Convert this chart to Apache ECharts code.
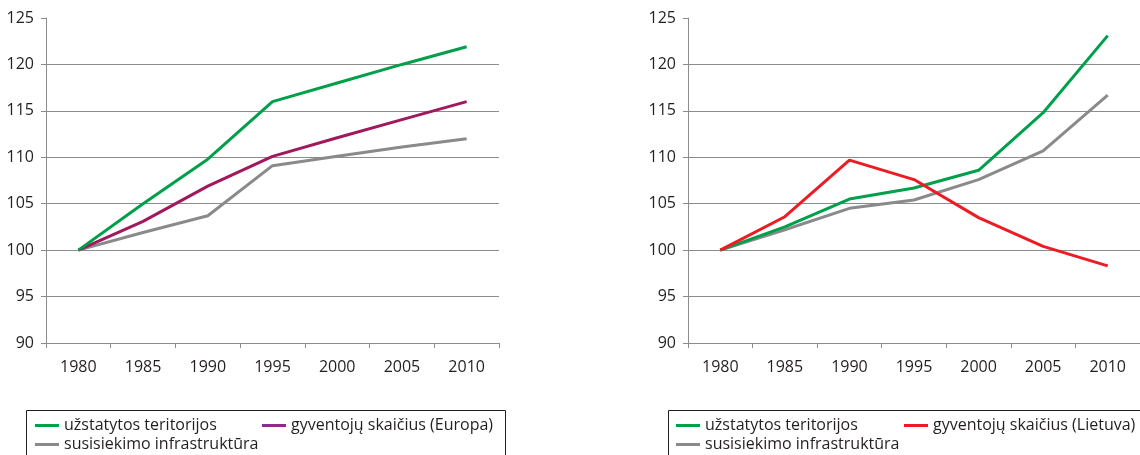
<!DOCTYPE html>
<html>
<head>
<meta charset="utf-8">
<script src="https://cdn.jsdelivr.net/npm/echarts@6/dist/echarts.min.js"></script>
<style>
html,body{margin:0;padding:0;background:#fff;}
#chart{width:1140px;height:455px;}
</style>
</head>
<body>
<div id="chart"></div>
<script>
// ---- data ----
var years = ['1980', '1985', '1990', '1995', '2000', '2005', '2010'];
var yMin = 90, yMax = 125, yStep = 5;

var nameBuilt = 'užstatytos teritorijos';
var nameInfra = 'susisiekimo infrastruktūra';
var namePopEU = 'gyventojų skaičius (Europa)';
var namePopLT = 'gyventojų skaičius (Lietuva)';

// Left chart (Europa)
var euBuilt = [100, 105, 109.8, 116, 118, 120, 121.9];
var euPop   = [100, 103.1, 106.9, 110.1, 112.1, 114.05, 116];
var euInfra = [100, 101.9, 103.7, 109.1, 110.1, 111.1, 112];

// Right chart (Lietuva)
var ltBuilt = [100, 102.5, 105.5, 106.7, 108.6, 114.8, 123.1];
var ltPop   = [100, 103.6, 109.7, 107.6, 103.5, 100.4, 98.3];
var ltInfra = [100, 102.2, 104.5, 105.4, 107.6, 110.7, 116.7];

// ---- styles ----
var cGreen = '#00a04a', cPurple = '#a1195d', cPurpleLegend = '#93278f',
    cRed = '#ed1c24', cGray = '#8a8a8a', cAxis = '#8c8c8c', cText = '#231f20';
var FONT = '"Open Sans", sans-serif';
var FS = 16;

function xAxis(gi) {
  return {
    type: 'category', gridIndex: gi, data: years, boundaryGap: true,
    axisLine: {show: true, lineStyle: {color: cAxis, width: 1}},
    axisTick: {show: true, length: 5, interval: 0, lineStyle: {color: cAxis}},
    axisLabel: {color: cText, fontSize: FS, fontFamily: FONT, margin: 16, interval: 0},
    splitLine: {show: false}
  };
}
function yAxis(gi) {
  return {
    type: 'value', gridIndex: gi, min: yMin, max: yMax, interval: yStep,
    axisLine: {show: true, lineStyle: {color: cAxis, width: 1}},
    axisTick: {show: true, length: 5, lineStyle: {color: cAxis}},
    axisLabel: {color: cText, fontSize: FS, fontFamily: FONT, margin: 12},
    splitLine: {show: true, showMaxLine: false, showMinLine: false, lineStyle: {color: cAxis, width: 1}}
  };
}
function line(name, data, color, gi) {
  return {
    type: 'line', name: name, data: data, xAxisIndex: gi, yAxisIndex: gi,
    symbol: 'none', lineStyle: {color: color, width: 3}, itemStyle: {color: color},
    z: 3
  };
}
function legend(left, names) {
  return {
    left: left, top: 416, orient: 'vertical', padding: 0, itemGap: 0,
    icon: 'rect', itemWidth: 24, itemHeight: 3, itemStyle: {borderWidth: 0},
    textStyle: {color: cText, fontSize: FS, fontFamily: FONT, lineHeight: 19, padding: [0, 0, 0, 0]},
    selectedMode: false,
    data: names
  };
}

var chart = echarts.init(document.getElementById('chart'), null, {renderer: 'canvas'});
chart.setOption({
  animation: false,
  backgroundColor: '#fff',
  grid: [
    {left: 46, top: 18, width: 453, height: 325, containLabel: false},
    {left: 688, top: 18, width: 453, height: 325, containLabel: false}
  ],
  xAxis: [xAxis(0), xAxis(1)],
  yAxis: [yAxis(0), yAxis(1)],
  legend: [
    legend(35, [nameBuilt, nameInfra]),
    legend(262, [{name: namePopEU, itemStyle: {color: cPurpleLegend}}]),
    legend(676, [nameBuilt, nameInfra]),
    legend(904, [namePopLT])
  ],
  graphic: [
    {type: 'rect', shape: {x: 26.5, y: 410.5, width: 479, height: 60}, style: {fill: 'none', stroke: cText, lineWidth: 1}, silent: true},
    {type: 'rect', shape: {x: 668.5, y: 410.5, width: 480, height: 60}, style: {fill: 'none', stroke: cText, lineWidth: 1}, silent: true}
  ],
  series: [
    line(nameInfra, euInfra, cGray, 0),
    line(namePopEU, euPop, cPurple, 0),
    line(nameBuilt, euBuilt, cGreen, 0),
    line(nameInfra, ltInfra, cGray, 1),
    line(nameBuilt, ltBuilt, cGreen, 1),
    line(namePopLT, ltPop, cRed, 1)
  ]
});
</script>
</body>
</html>
